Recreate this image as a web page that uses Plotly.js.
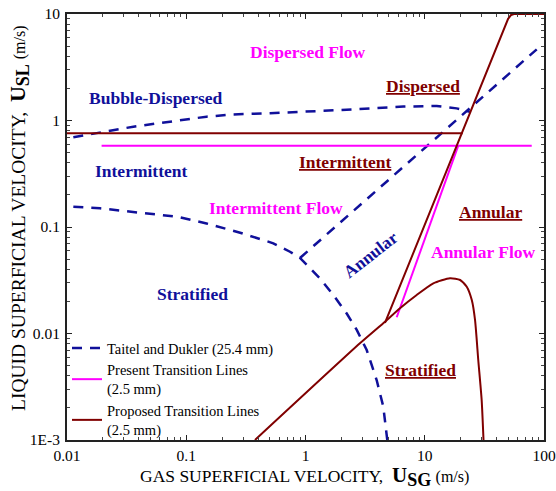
<!DOCTYPE html>
<html>
<head>
<meta charset="utf-8">
<script src="https://cdn.plot.ly/plotly-3.0.1.min.js"></script>
<style>html,body{margin:0;padding:0;background:#fff;}#chart{width:556px;height:491px;}</style>
</head>
<body>
<div id="chart"></div>
<script>
// ---- Data ----
// Taitel & Dukler (25.4 mm) boundaries
var tdUpperX = [0.0113, 0.0156, 0.0230, 0.036, 0.0565, 0.0886, 0.148, 0.248, 0.504, 1.83, 6.61, 12.6, 18.5, 23.9];
var tdUpperY = [0.695, 0.747, 0.802, 0.875, 0.941, 1.01, 1.086, 1.14, 1.17, 1.25, 1.35, 1.37, 1.30, 1.21];
var tdAnnX = [0.899, 86.9];
var tdAnnY = [0.0512, 4.66];
var tdStratX = [0.0113, 0.0189, 0.0410, 0.0832, 0.148, 0.283, 0.537, 0.741, 0.899, 1.32, 1.71, 2.21, 2.69, 3.26, 3.95, 4.49, 4.85];
var tdStratY = [0.155, 0.150, 0.136, 0.125, 0.108, 0.0884, 0.0703, 0.0586, 0.0512, 0.033, 0.023, 0.0155, 0.0108, 0.0070, 0.00366, 0.00206, 0.001];
// Present transition lines (2.5 mm)
var prHorizX = [0.0195, 78.9];
var prHorizY = [0.58, 0.58];
var prAnnX = [19.1, 5.82];
var prAnnY = [0.58, 0.0142];
// Proposed transition lines (2.5 mm)
var poHorizX = [0.01, 20.8];
var poHorizY = [0.758, 0.758];
var poAnnX = [4.64, 45, 50, 53, 56, 100];
var poAnnY = [0.01256, 6.7, 9.0, 9.8, 10, 10];
var poStratX = [0.377, 2.86, 4.64, 6.20, 8.56, 11.8, 16.3, 19.8, 22.5, 24.8, 26.4, 28.1, 30.0, 31.1];
var poStratY = [0.001, 0.00809, 0.0129, 0.01726, 0.0230, 0.0296, 0.0330, 0.0318, 0.0275, 0.0206, 0.0134, 0.00564, 0.00238, 0.001];
// Tick labels
var xTickVals = [0.01, 0.1, 1, 10, 100];
var xTickText = ['0.01', '0.1', '1', '10', '100'];
var yTickVals = [0.001, 0.01, 0.1, 1, 10];
var yTickText = ['1E-3', '0.01', '0.1', '1', '10'];
// Axis titles
var xTitle = 'GAS SUPERFICIAL VELOCITY,  <b><span style="font-size:21px">U</span><sub><span style="font-size:18px">SG</span></sub></b> <span style="font-size:16px">(m/s)</span>';
var yTitle = 'LIQUID SUPERFICIAL VELOCITY,  <b><span style="font-size:22px">U</span><sub><span style="font-size:18px">SL</span></sub></b> <span style="font-size:16px">(m/s)</span>';
// Region labels
var regionLabels = [
  {t: 'Dispersed Flow', px: 308, py: 52, c: 'magenta', u: false},
  {t: 'Bubble-Dispersed', px: 155, py: 98, c: 'navy', u: false},
  {t: 'Dispersed', px: 423, py: 86, c: 'red', u: true},
  {t: 'Intermittent', px: 141, py: 171, c: 'navy', u: false},
  {t: 'Intermittent', px: 345, py: 162, c: 'red', u: true},
  {t: 'Intermittent Flow', px: 276, py: 208, c: 'magenta', u: false},
  {t: 'Annular', px: 490, py: 212, c: 'red', u: true},
  {t: 'Annular Flow', px: 483, py: 252, c: 'magenta', u: false},
  {t: 'Stratified', px: 192, py: 294, c: 'navy', u: false},
  {t: 'Stratified', px: 420, py: 370, c: 'red', u: true}
];

var NAVY = '#10109a', MAG = '#ff00ff', DRED = '#800000';
var SERIF = '"Liberation Serif", "Times New Roman", serif';

function tr(x, y, color, dash, name, group, show, width) {
  return {x: x, y: y, type: 'scatter', mode: 'lines', name: name, legendgroup: group, showlegend: show,
    line: {color: color, width: width, dash: dash}, hoverinfo: 'skip'};
}
var data = [
  tr(tdUpperX, tdUpperY, NAVY, '10px,8px', 'Taitel and Dukler (25.4 mm)', 'td', true, 2.5),
  tr(tdAnnX, tdAnnY, NAVY, '10px,8px', 'td', 'td', false, 2.5),
  tr(tdStratX, tdStratY, NAVY, '10px,8px', 'td', 'td', false, 2.5),
  tr(prHorizX, prHorizY, MAG, 'solid', 'Present Transition Lines<br>(2.5 mm)', 'pr', true, 2),
  tr(prAnnX, prAnnY, MAG, 'solid', 'pr', 'pr', false, 2),
  tr(poHorizX, poHorizY, DRED, 'solid', 'Proposed Transition Lines<br>(2.5 mm)', 'po', true, 2),
  tr(poAnnX, poAnnY, DRED, 'solid', 'po', 'po', false, 2),
  Object.assign(tr(poStratX, poStratY, DRED, 'solid', 'po', 'po', false, 2), {line: {color: DRED, width: 2, shape: 'spline', smoothing: 0.6}})
];

// plot area in pixels: x 67..544, y 14..440
function px2paperX(px) { return (px - 67) / 477; }
function py2paperY(py) { return (440 - py) / 426; }
var colors = {navy: NAVY, magenta: MAG, red: DRED};
var annotations = regionLabels.map(function (r) {
  return {text: r.u ? '<u>' + r.t + '</u>' : r.t, x: px2paperX(r.px), y: py2paperY(r.py), xref: 'paper', yref: 'paper',
    xanchor: 'center', yanchor: 'middle',
    showarrow: false, font: {family: SERIF, size: 17.5, color: colors[r.c], weight: 'bold'}};
});
annotations.push({text: 'Annular', x: px2paperX(370), y: py2paperY(255), xref: 'paper', yref: 'paper', showarrow: false,
  xanchor: 'center', yanchor: 'middle',
  textangle: -38, font: {family: SERIF, size: 17.5, color: NAVY, weight: 'bold'}});
// axis titles as positioned annotations
annotations.push({text: xTitle, x: px2paperX(304), y: py2paperY(476.5), xref: 'paper', yref: 'paper', showarrow: false,
  xanchor: 'center', yanchor: 'middle', font: {family: SERIF, size: 17.5, color: '#000'}});
annotations.push({text: yTitle, x: px2paperX(19), y: py2paperY(218), xref: 'paper', yref: 'paper', showarrow: false,
  xanchor: 'center', yanchor: 'middle', textangle: -90, font: {family: SERIF, size: 19.5, color: '#000'}});

var axisCommon = {type: 'log', showgrid: false, zeroline: false, showline: true, linecolor: '#222', linewidth: 2,
  mirror: 'allticks', ticks: 'inside', ticklen: 5, tickcolor: '#222', tickfont: {family: SERIF, size: 15.5, color: '#000'},
  minor: {ticks: 'inside', ticklen: 3, tickcolor: '#444', dtick: 'D1', showgrid: false}};

var layout = {
  width: 556, height: 491,
  margin: {l: 67, r: 12, t: 14, b: 51},
  paper_bgcolor: '#fff', plot_bgcolor: '#fff',
  font: {family: SERIF, color: '#000'},
  xaxis: Object.assign({}, axisCommon, {range: [-2, 2], tickvals: xTickVals, ticktext: xTickText, ticklabelstandoff: 0}),
  yaxis: Object.assign({}, axisCommon, {range: [-3, 1], tickvals: yTickVals, ticktext: yTickText, ticklabelstandoff: 2}),
  legend: {x: 0, y: -0.014, xanchor: 'left', yanchor: 'bottom', bgcolor: 'rgba(0,0,0,0)', borderwidth: 0,
    font: {family: SERIF, size: 14.5, color: '#000'}, tracegroupgap: 0},
  annotations: annotations,
  showlegend: true
};

Plotly.newPlot('chart', data, layout, {displayModeBar: false, staticPlot: true});
</script>
</body>
</html>
